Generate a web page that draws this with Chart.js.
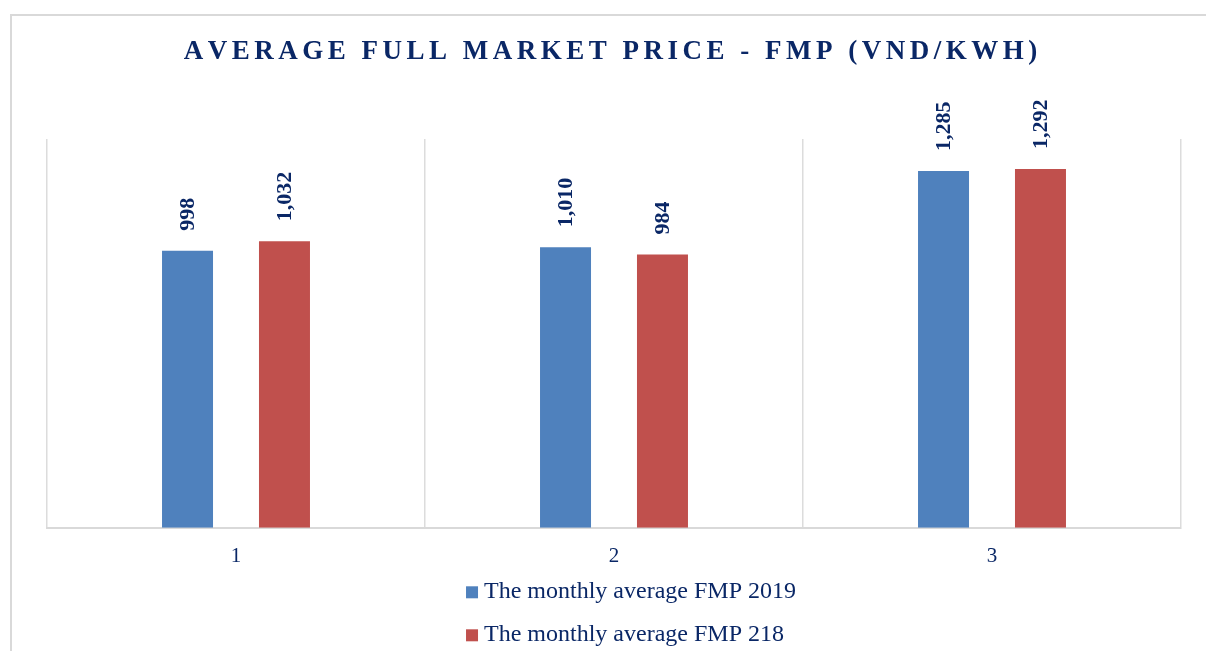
<!DOCTYPE html>
<html>
<head>
<meta charset="utf-8">
<title>Average Full Market Price - FMP</title>
<script src="https://cdn.jsdelivr.net/npm/chart.js@4/dist/chart.umd.min.js"></script>
<style>
  html, body { margin: 0; padding: 0; background: #ffffff; overflow: hidden; }
  #wrap { position: relative; width: 1206px; height: 651px; }
  #frame {
    position: absolute; left: 10px; top: 14px; width: 1300px; height: 700px;
    border-left: 2px solid #d9d9d9; border-top: 2px solid #d9d9d9;
    pointer-events: none;
  }
</style>
</head>
<body>
<div id="wrap">
  <canvas id="fmpChart" width="1206" height="651"></canvas>
  <div id="frame"></div>
</div>
<script>
// 月 (横軸)
const months = ['1', '2', '3'];
// 系列名
const seriesNames = ['The monthly average FMP 2019', 'The monthly average FMP 218'];
// 値 (VND/kWh)
const fmp2019 = [998, 1010, 1285];
const fmp2018 = [1032, 984, 1292];

const chartTitle = 'AVERAGE FULL MARKET PRICE - FMP (VND/KWH)';
const navy = '#0a2766';

// タイトル（字間あり）
const spacedTitle = {
  id: 'spacedTitle',
  afterDraw(chart) {
    let ctx = chart.ctx;
    let spacing = 4.5;
    ctx.save();
    ctx.font = 'bold 27px "Liberation Serif", "Times New Roman", serif';
    ctx.fillStyle = navy;
    ctx.textBaseline = 'alphabetic';
    ctx.textAlign = 'left';
    let total = 0;
    for (let c of chartTitle) total += ctx.measureText(c).width + spacing;
    total -= spacing;
    let x = 610.5 - total / 2;
    for (let c of chartTitle) {
      ctx.fillText(c, x, 59);
      x += ctx.measureText(c).width + spacing;
    }
    ctx.restore();
  }
};

// 棒の上の値ラベル（縦書き）
const barValues = {
  id: 'barValues',
  afterDatasetsDraw(chart) {
    let ctx = chart.ctx;
    ctx.save();
    ctx.font = 'bold 22px "Liberation Serif", "Times New Roman", serif';
    ctx.fillStyle = navy;
    ctx.textAlign = 'left';
    ctx.textBaseline = 'middle';
    chart.data.datasets.forEach(function (ds, i) {
      chart.getDatasetMeta(i).data.forEach(function (bar, j) {
        ctx.save();
        ctx.translate(bar.x + 1, bar.y - 20);
        ctx.rotate(-Math.PI / 2);
        ctx.fillText(ds.data[j].toLocaleString('en-US'), 0, 0);
        ctx.restore();
      });
    });
    ctx.restore();
  }
};

// 凡例（縦並び）
const stackedLegend = {
  id: 'stackedLegend',
  afterDraw(chart) {
    let ctx = chart.ctx;
    let area = chart.chartArea;
    ctx.save();
    ctx.font = '24px "Liberation Serif", "Times New Roman", serif';
    ctx.textBaseline = 'alphabetic';
    ctx.textAlign = 'left';
    let maxW = 0;
    chart.data.datasets.forEach(function (ds) {
      maxW = Math.max(maxW, ctx.measureText(ds.label).width + 18);
    });
    let left = (area.left + area.right) / 2 - maxW / 2 + 17;
    chart.data.datasets.forEach(function (ds, i) {
      let base = area.bottom + 70 + i * 43;
      ctx.fillStyle = ds.backgroundColor;
      ctx.fillRect(left, base - 11.5, 12, 12);
      ctx.fillStyle = navy;
      ctx.fillText(ds.label, left + 18, base);
    });
    ctx.restore();
  }
};

function drawFmpChart() {
  let ctx = document.getElementById('fmpChart').getContext('2d');
  window.fmpChart = new Chart(ctx, {
    type: 'bar',
    data: {
      labels: months,
      datasets: [{
        label: seriesNames[0],
        data: fmp2019,
        backgroundColor: '#4f81bd',
        categoryPercentage: 0.513,
        barPercentage: 0.526
      }, {
        label: seriesNames[1],
        data: fmp2018,
        backgroundColor: '#c0504d',
        categoryPercentage: 0.513,
        barPercentage: 0.526
      }]
    },
    options: {
      responsive: false,
      animation: false,
      devicePixelRatio: 1,
      layout: {
        padding: { left: 47, right: 25, top: 139, bottom: 66 }
      },
      plugins: {
        legend: { display: false },
        title: { display: false },
        tooltip: { enabled: false }
      },
      scales: {
        x: {
          offset: true,
          grid: {
            offset: true,
            drawTicks: false,
            color: '#dcdcdc',
            lineWidth: 1.5
          },
          border: { display: true, color: '#d9d9d9', width: 2 },
          ticks: {
            padding: 16,
            color: navy,
            font: { family: '"Liberation Serif", "Times New Roman", serif', size: 21 }
          }
        },
        y: {
          display: false,
          min: 0,
          max: 1400
        }
      }
    },
    plugins: [spacedTitle, barValues, stackedLegend]
  });
}

drawFmpChart();
</script>
</body>
</html>
